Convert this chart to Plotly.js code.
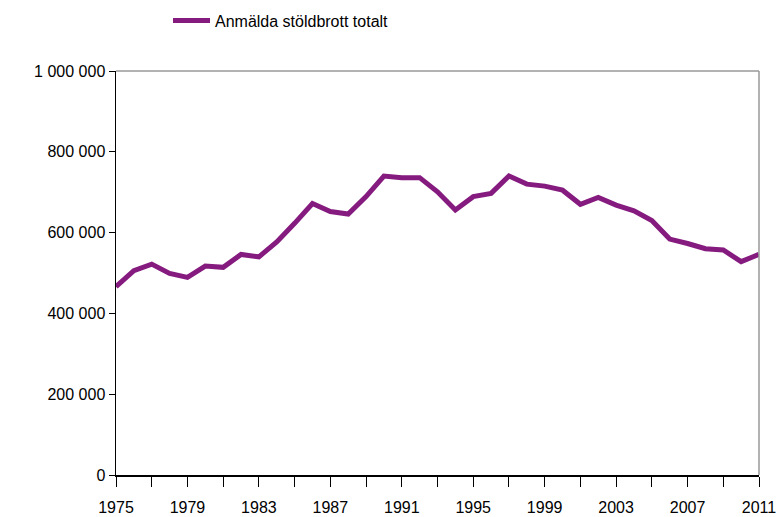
<!DOCTYPE html>
<html>
<head>
<meta charset="utf-8">
<script src="https://cdn.plot.ly/plotly-3.0.1.min.js"></script>
<style>html,body{margin:0;padding:0;background:#fff;}#chart{width:784px;height:517px;}</style>
</head>
<body>
<div id="chart"></div>
<script>
const seriesName = "Anmälda stöldbrott totalt";
const years = [1975,1976,1977,1978,1979,1980,1981,1982,1983,1984,1985,1986,1987,1988,1989,1990,1991,1992,1993,1994,1995,1996,1997,1998,1999,2000,2001,2002,2003,2004,2005,2006,2007,2008,2009,2010,2011];
const thefts = [466000,506000,522000,499000,489000,517000,514000,546000,540000,577000,623000,672000,652000,646000,689000,740000,736000,736000,701000,656000,689000,697000,740000,720000,715000,705000,670000,687000,668000,654000,630000,584000,573000,560000,557000,528000,546000];
const xTickVals = [1975,1977,1979,1981,1983,1985,1987,1989,1991,1993,1995,1997,1999,2001,2003,2005,2007,2009,2011];
const xTickText = ["1975","","1979","","1983","","1987","","1991","","1995","","1999","","2003","","2007","","2011"];
const yTickVals = [0,200000,400000,600000,800000,1000000];
const yTickText = ["0","200 000","400 000","600 000","800 000","1 000 000"];

const font = {family: "Liberation Sans, Arial, sans-serif", size: 16, color: "#000"};

const trace = {
  x: years, y: thefts, type: "scatter", mode: "lines", name: seriesName,
  line: {color: "#851a7f", width: 5}
};

const layout = {
  width: 784, height: 517,
  margin: {l: 116, r: 25, t: 71, b: 42},
  paper_bgcolor: "#fff", plot_bgcolor: "#fff",
  font: font,
  showlegend: true,
  legend: {orientation: "h", xref: "container", x: 168/784, xanchor: "left", yref: "container", y: 0.993, yanchor: "top", font: font, itemwidth: 37},
  xaxis: {
    range: [1975, 2011], tickmode: "array", tickvals: xTickVals, ticktext: xTickText,
    ticks: "outside", ticklen: 10, tickcolor: "#000", tickwidth: 1, ticklabelstandoff: 7,
    showline: true, linecolor: "#000", linewidth: 1.5, showgrid: false, zeroline: false,
    tickfont: font
  },
  yaxis: {
    range: [0, 1000000], tickmode: "array", tickvals: yTickVals, ticktext: yTickText,
    ticks: "outside", ticklen: 6, tickcolor: "#000", tickwidth: 1,
    showline: true, linecolor: "#000", linewidth: 1.5, showgrid: false, zeroline: false,
    tickfont: font
  },
  shapes: [
    {type: "line", xref: "paper", yref: "paper", x0: 0, x1: 1, y0: 1, y1: 1, line: {color: "#999", width: 1.5}},
    {type: "line", xref: "paper", yref: "paper", x0: 1, x1: 1, y0: 0, y1: 1, line: {color: "#999", width: 1.5}}
  ]
};

Plotly.newPlot("chart", [trace], layout, {displayModeBar: false, staticPlot: true});
</script>
</body>
</html>
